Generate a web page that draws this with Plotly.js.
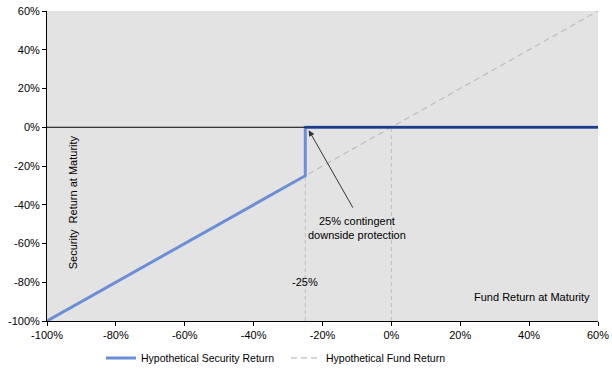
<!DOCTYPE html>
<html><head><meta charset="utf-8">
<script src="https://cdn.plot.ly/plotly-3.0.1.min.js"></script>
<style>html,body{margin:0;padding:0;background:#fff}#c{width:612px;height:369px}</style>
</head><body><div id="c"></div>
<script>
const fundX = [-100, 60];
const fundY = [-100, 60];
const secX = [-100, -25, -25, 60];
const secY = [-100, -25, 0, 0];
const guideX = [-25, 0];
const guideTop = [-25, 0];
const xTicks = [-100, -80, -60, -40, -20, 0, 20, 40, 60];
const yTicks = [-100, -80, -60, -40, -20, 0, 20, 40, 60];

const font = {family: 'Liberation Sans, Arial, sans-serif', size: 11, color: '#000'};

const traces = [
  {x: fundX, y: fundY, mode: 'lines', name: 'Hypothetical Fund Return',
   line: {color: '#bdbdbd', width: 1.2, dash: '6px,4px'}},
  {x: secX, y: secY, mode: 'lines', name: 'Hypothetical Security Return',
   line: {color: '#6b8fd6', width: 3}}
];

const shapes = guideX.map((gx, i) => ({type: 'line', xref: 'x', yref: 'y', x0: gx, x1: gx, y0: -100, y1: guideTop[i],
  line: {color: '#bdbdbd', width: 1, dash: '4px,3px'}, layer: 'below'}));
shapes.push({type: 'line', xref: 'paper', yref: 'y', x0: 0, x1: 1, y0: 0, y1: 0, line: {color: '#000', width: 1}, layer: 'above'});
shapes.push({type: 'line', xref: 'x', yref: 'y', x0: -25, x1: 60, y0: 0, y1: 0, line: {color: '#1f3c8c', width: 2.5}, layer: 'above'});

const layout = {
  width: 612, height: 369,
  margin: {l: 47, r: 14, t: 11, b: 48},
  paper_bgcolor: '#fff', plot_bgcolor: '#e3e3e3',
  font: font,
  showlegend: true,
  legend: {orientation: 'h', xref: 'container', yref: 'container', x: 0.165, y: 0.03, xanchor: 'left', yanchor: 'middle', traceorder: 'reversed',
    entrywidth: 140, entrywidthmode: 'pixels',
    font: {family: 'Liberation Sans, Arial, sans-serif', size: 10.5}, bgcolor: 'rgba(0,0,0,0)'},
  xaxis: {range: [-100, 60], tickvals: xTicks, ticktext: xTicks.map(v => v + '%'), showgrid: false, zeroline: false, automargin: false,
    showline: true, linecolor: '#000', linewidth: 1, ticks: 'outside', ticklen: 4, tickcolor: '#000', mirror: false, fixedrange: true},
  yaxis: {range: [-100, 60], tickvals: yTicks, ticktext: yTicks.map(v => v + '%'), showgrid: false, zeroline: false, automargin: false,
    showline: true, linecolor: '#000', linewidth: 1, ticks: 'outside', ticklen: 4, tickcolor: '#000', fixedrange: true},
  shapes: shapes,
  annotations: [
    {xref: 'x', yref: 'y', x: -24, y: -1.5, text: '', showarrow: true, arrowhead: 2, arrowsize: 1.2, arrowwidth: 1, arrowcolor: '#333',
     ax: 45, ay: 79},
    {xref: 'x', yref: 'y', x: -10, y: -52, text: '25% contingent<br>downside protection', showarrow: false, font: {size: 11}},
    {xref: 'x', yref: 'y', x: -25, y: -80, text: '-25%', showarrow: false, font: {size: 11}},
    {xref: 'x', yref: 'y', x: 40.8, y: -87.5, text: 'Fund Return at Maturity', showarrow: false, font: {size: 11}},
    {xref: 'paper', yref: 'y', x: 0.033, y: -38.6, text: 'Security  Return at Maturity', textangle: -90, showarrow: false, font: {size: 11}}
  ]
};
Plotly.newPlot('c', traces, layout, {staticPlot: true});
</script></body></html>
